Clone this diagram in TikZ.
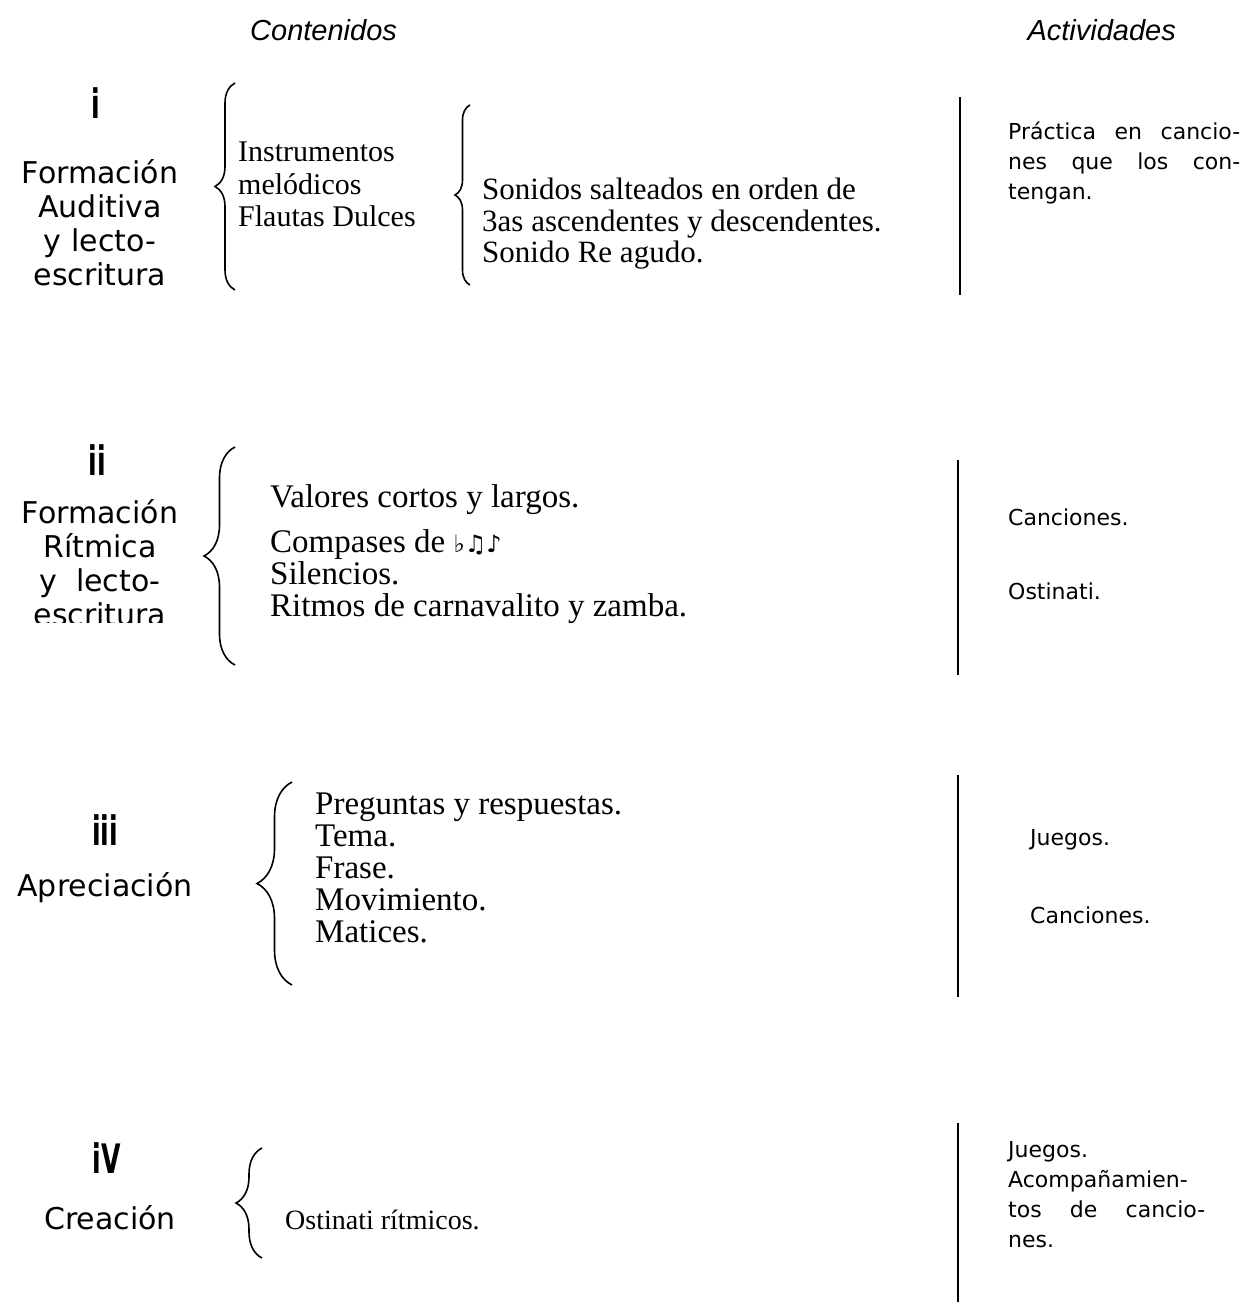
\documentclass[tikz,border=0pt]{standalone}
\usepackage{fontspec}
\usepackage{graphicx}
\usetikzlibrary{positioning, decorations.pathreplacing}
\setmainfont{Liberation Serif}
\newfontfamily\titlefont{DejaVu Sans}
\newfontfamily\headfont{Liberation Sans}
\newfontfamily\actfont{DejaVu Sans}
\newfontfamily\symfont{DejaVu Sans}
\newcommand{\tallnum}[1]{\scalebox{0.9}[1.45]{\bfseries #1}}

\begin{document}
\begin{tikzpicture}[x=1pt,y=-1pt,
  title/.style={font=\titlefont\fontsize{30}{34}\selectfont, align=center, inner sep=0pt},
  numeral/.style={font=\titlefont\fontsize{28}{28}\selectfont, inner sep=0pt},
  item/.style={font=\fontsize{33}{32}\selectfont, anchor=base west, inner sep=0pt},
  act/.style={font=\actfont\fontsize{22}{30}\selectfont, anchor=base west, inner sep=0pt},
  head/.style={font=\headfont\itshape\fontsize{29}{29}\selectfont, inner sep=0pt},
  brace/.style={decorate, decoration={brace, amplitude=#1}, line width=1.6pt},
  rule/.style={line width=1.8pt}]
  \useasboundingbox (0,0) rectangle (1256,1302);

  % column heads
  \begin{scope}
    \clip (150,0) rectangle (398,70);
    \node[head, anchor=west] (hcont) at (250,30) {Contenidos};
  \end{scope}
  \node[head, anchor=east] (hact) at (1176,30) {Actividades};

  % i
  \node[numeral] (n1) at (96,103) {\tallnum{i}};
  \node[title] (t1) at (100,223) {Formación\\Auditiva\\y lecto-\\escritura};
  \coordinate (b1s) at (235,290); \coordinate (b1n) at (235,83);
  \draw[brace=20] (b1s) -- (b1n);
  \node[item, font=\fontsize{30}{32}\selectfont] (i1a) at (238,161) {Instrumentos};
  \node[item, font=\fontsize{30}{32}\selectfont] (i1b) at (238,194) {melódicos};
  \node[item, font=\fontsize{30}{32}\selectfont] (i1c) at (238,226) {Flautas Dulces};
  \coordinate (b2s) at (470,285); \coordinate (b2n) at (470,105);
  \draw[brace=15] (b2s) -- (b2n);
  \node[item, font=\fontsize{31}{32}\selectfont] (i1d) at (482,199) {Sonidos salteados en orden de};
  \node[item, font=\fontsize{31}{32}\selectfont] (i1e) at (482,231) {3as ascendentes y descendentes.};
  \node[item, font=\fontsize{31}{32}\selectfont] (i1f) at (482,262) {Sonido Re agudo.};
  \coordinate (r1n) at (960,97); \coordinate (r1s) at (960,295);
  \draw[rule] (r1n) -- (r1s);
  \node[act, text width=232pt, align=justify] (a1) at (1008,139)
    {Práctica en cancio-\linebreak nes que los con-\linebreak tengan.};

  % ii
  \node[numeral] (n2) at (97,460) {\tallnum{ii}};
  \begin{scope}
    \clip (0,440) rectangle (200,622);
    \node[title] (t2) at (100,563) {Formación\\Rítmica\\y\ \ lecto-\\escritura};
  \end{scope}
  \coordinate (b3s) at (235,665); \coordinate (b3n) at (235,447);
  \draw[brace=31] (b3s) -- (b3n);
  \node[item] (i2a) at (270,507) {Valores cortos y largos.};
  \node[item] (i2b) at (270,552) {Compases de {\symfont\fontsize{24}{24}\selectfont ♭♫♪}};
  \node[item] (i2c) at (270,584) {Silencios.};
  \node[item] (i2d) at (270,616) {Ritmos de carnavalito y zamba.};
  \coordinate (r2n) at (958,460); \coordinate (r2s) at (958,675);
  \draw[rule] (r2n) -- (r2s);
  \node[act] (a2a) at (1008,525) {Canciones.};
  \node[act] (a2b) at (1008,599) {Ostinati.};

  % iii
  \node[numeral] (n3) at (105,830) {\tallnum{iii}};
  \node[title] (t3) at (105,888) {Apreciación};
  \coordinate (b4s) at (292,985); \coordinate (b4n) at (292,782);
  \draw[brace=35] (b4s) -- (b4n);
  \node[item] (i3a) at (315,814) {Preguntas y respuestas.};
  \node[item] (i3b) at (315,846) {Tema.};
  \node[item] (i3c) at (315,878) {Frase.};
  \node[item] (i3d) at (315,910) {Movimiento.};
  \node[item] (i3e) at (315,942) {Matices.};
  \coordinate (r3n) at (958,775); \coordinate (r3s) at (958,997);
  \draw[rule] (r3n) -- (r3s);
  \node[act] (a3a) at (1030,845) {Juegos.};
  \node[act] (a3b) at (1030,923) {Canciones.};

  % iv
  \node[numeral] (n4) at (107,1158) {\tallnum{iV}};
  \node[title] (t4) at (110,1218) {Creación};
  \coordinate (b5s) at (262,1258); \coordinate (b5n) at (262,1148);
  \draw[brace=26] (b5s) -- (b5n);
  \node[item, font=\fontsize{28}{32}\selectfont] (i4a) at (285,1229) {Ostinati rítmicos.};
  \coordinate (r4n) at (958,1123); \coordinate (r4s) at (958,1302);
  \draw[rule] (r4n) -- (r4s);
  \node[act, text width=197pt, align=justify] (a4) at (1008,1157)
    {Juegos.\\ Acompañamien-\linebreak tos de cancio-\linebreak nes.};
\end{tikzpicture}
\end{document}
